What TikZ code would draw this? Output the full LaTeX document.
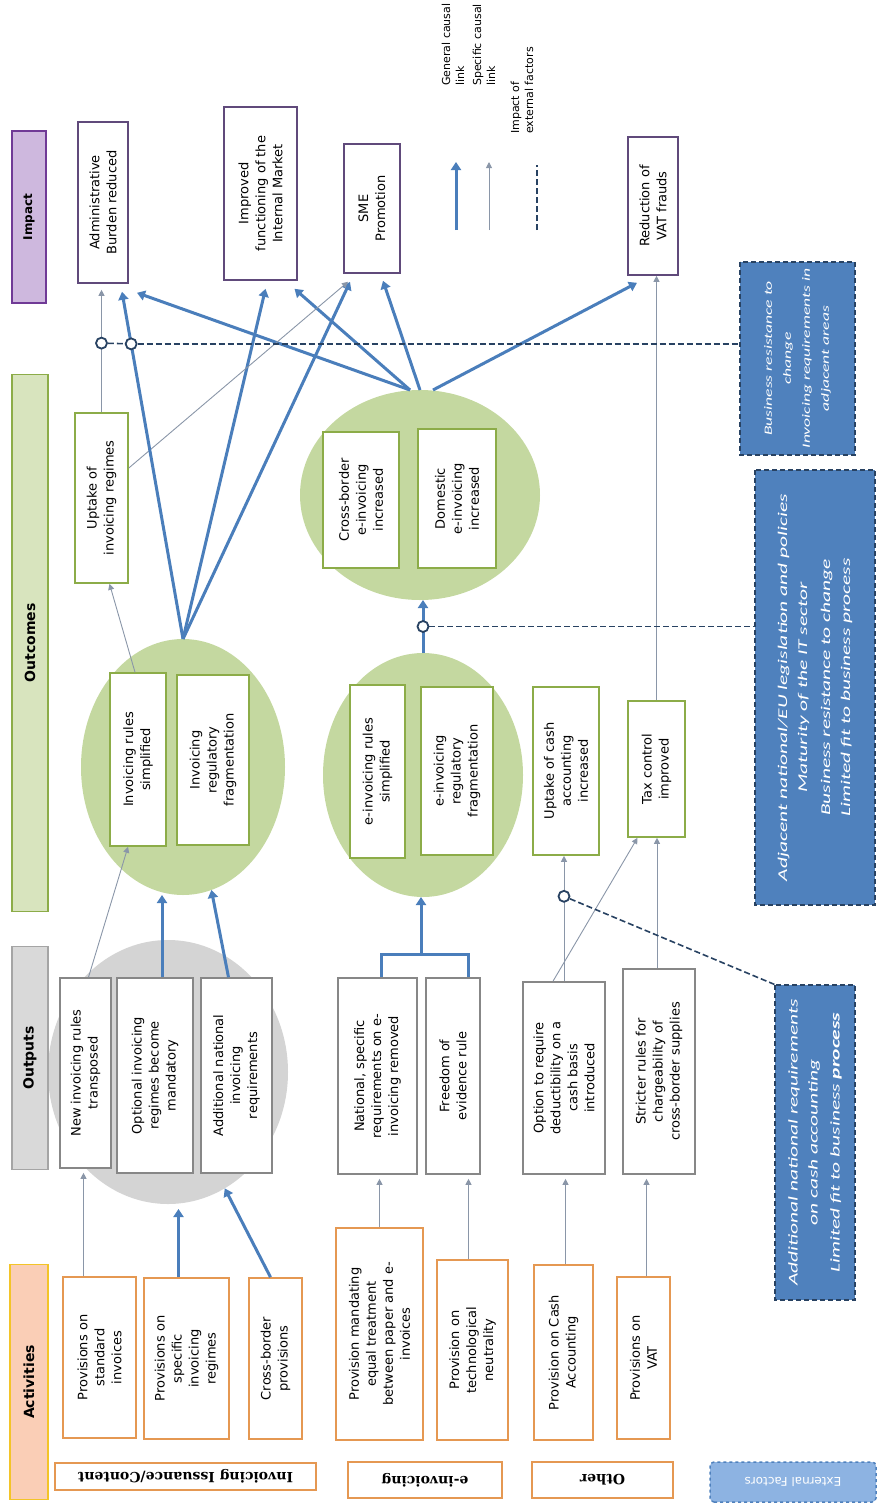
\documentclass[tikz,border=0pt]{standalone}
\usepackage{fontspec}
\setmainfont{DejaVu Sans}
\newfontfamily\extfont[FakeStretch=1.6]{Carlito}
\newfontfamily\rowfont{DejaVu Serif}
\usetikzlibrary{arrows.meta,shapes.geometric}

\definecolor{actline}{RGB}{229,152,82}
\definecolor{acthead}{RGB}{250,206,182}
\definecolor{actheadline}{RGB}{243,196,40}
\definecolor{outline}{RGB}{135,135,135}
\definecolor{outhead}{RGB}{217,217,217}
\definecolor{outheadline}{RGB}{165,165,165}
\definecolor{ocline}{RGB}{140,172,72}
\definecolor{ochead}{RGB}{216,228,190}
\definecolor{imline}{RGB}{96,74,123}
\definecolor{imhead}{RGB}{206,184,222}
\definecolor{imheadline}{RGB}{112,58,150}
\definecolor{greyblob}{RGB}{212,212,212}
\definecolor{greenblob}{RGB}{196,216,160}
\definecolor{heavyblue}{RGB}{74,126,187}
\definecolor{thingray}{RGB}{138,150,168}
\definecolor{extdark}{RGB}{40,66,98}
\definecolor{extblue}{RGB}{79,129,189}
\definecolor{extlight}{RGB}{141,179,226}

\newcommand{\boxsize}{\fontsize{13}{17}\selectfont}

\begin{document}
\begin{tikzpicture}[x=1pt,y=-1pt,
    box/.style={draw, fill=white, rotate=90, align=center, inner sep=1pt,
      line width=1.6pt, font=\boxsize},
    actbox/.style={box, draw=actline},
    outbox/.style={box, draw=outline},
    ocbox/.style={box, draw=ocline},
    imbox/.style={box, draw=imline},
    header/.style={rotate=90, inner sep=0pt, line width=1.5pt,
      font=\fontsize{14}{16}\selectfont\bfseries},
    rowlabel/.style={rotate=180, inner sep=0pt, line width=1.5pt,
      font=\rowfont\fontsize{14}{16}\selectfont\bfseries},
    extbox/.style={rotate=90, fill=extblue, draw=extdark, dashed, line width=1.2pt,
      dash pattern=on 5pt off 3pt, text=white, align=center, inner sep=2pt,
      font=\extfont\itshape\fontsize{13.4}{20}\selectfont},
    blob/.style={ellipse, inner sep=0pt, outer sep=0pt},
    heavyarr/.style={-{Triangle[width=10pt,length=8pt]}, line width=3pt, draw=heavyblue},
    heavyline/.style={line width=3pt, draw=heavyblue},
    thinarr/.style={-{Triangle[width=6pt,length=6pt]}, line width=0.9pt, draw=thingray},
    extline/.style={line width=1.6pt, draw=extdark, dash pattern=on 6pt off 3pt},
    knot/.style={circle, draw=extdark, fill=white, line width=1.8pt,
      minimum size=11pt, inner sep=0pt},
    legtext/.style={rotate=90, align=left, inner sep=0pt,
      font=\fontsize{11}{14}\selectfont}]
\useasboundingbox (0,0) rectangle (877,1504);

% Background blobs
\node[blob, fill=greyblob, minimum width=240pt, minimum height=264pt] (ellGrey) at (168,1072) {};
\node[blob, fill=greenblob, minimum width=204pt, minimum height=256pt] (ellInv) at (183,767) {};
\node[blob, fill=greenblob, minimum width=200pt, minimum height=244pt] (ellEinv) at (423,775) {};
\node[blob, fill=greenblob, minimum width=240pt, minimum height=210pt] (ellCross) at (420,495) {};

% Column headers
\node[header, fill=acthead, draw=actheadline, minimum width=235pt, minimum height=38pt] (hAct) at (29,1382) {Activities};
\node[header, fill=outhead, draw=outheadline, minimum width=223pt, minimum height=36pt] (hOut) at (30,1058) {Outputs};
\node[header, fill=ochead, draw=ocline, minimum width=537pt, minimum height=36pt] (hOc) at (30,643) {Outcomes};
\node[header, fill=imhead, draw=imheadline, minimum width=172pt, minimum height=34pt, font=\fontsize{12}{14}\selectfont\bfseries] (hIm) at (29,217) {Impact};

% Row labels
\node[rowlabel, draw=actline, fill=white, minimum width=261pt, minimum height=27pt] (rowInv) at (185.5,1476.5) {Invoicing Issuance/Content};
\node[rowlabel, draw=actline, fill=white, minimum width=154pt, minimum height=36pt] (rowEinv) at (425,1480) {e-invoicing};
\node[rowlabel, draw=actline, fill=white, minimum width=141pt, minimum height=36pt] (rowOther) at (602.5,1480) {Other};
\node[rowlabel, draw=extblue, dashed, fill=extlight, text=white, rounded corners=4pt, minimum width=166pt, minimum height=40pt,
  font=\fontsize{12}{14}\selectfont] (rowExt) at (793,1482) {External Factors};

% Activities
\node[actbox, minimum width=161pt, minimum height=73pt] (act1) at (99.5,1357.5) {Provisions on\\standard\\invoices};
\node[actbox, minimum width=161pt, minimum height=85pt] (act2) at (186.5,1358.5) {Provisions on\\specific\\invoicing\\regimes};
\node[actbox, minimum width=161pt, minimum height=53pt] (act3) at (275.5,1358.5) {Cross-border\\provisions};
\node[actbox, minimum width=212pt, minimum height=87pt] (act4) at (379.5,1334) {Provision mandating\\equal treatment\\between paper and e-\\invoices};
\node[actbox, minimum width=180pt, minimum height=71pt] (act5) at (472.5,1350) {Provision on\\technological\\neutrality};
\node[actbox, minimum width=175pt, minimum height=59pt] (act6) at (563.5,1352.5) {Provision on Cash\\Accounting};
\node[actbox, minimum width=162pt, minimum height=53pt] (act7) at (643.5,1358) {Provisions on\\VAT};

% Outputs
\node[outbox, minimum width=190pt, minimum height=51pt] (out1) at (85.5,1073) {New invoicing rules\\transposed};
\node[outbox, minimum width=195pt, minimum height=76pt] (out2) at (155,1075.5) {Optional invoicing\\regimes become\\mandatory};
\node[outbox, minimum width=195pt, minimum height=71pt] (out3) at (236.5,1075.5) {Additional national\\invoicing\\requirements};
\node[outbox, minimum width=196pt, minimum height=79pt] (out4) at (377.5,1076) {National, specific\\requirements on e-\\invoicing removed};
\node[outbox, minimum width=196pt, minimum height=54pt] (out5) at (453,1076) {Freedom of\\evidence rule};
\node[outbox, minimum width=192pt, minimum height=82pt] (out6) at (564,1078) {Option to require\\deductibility on a\\cash basis\\introduced};
\node[outbox, minimum width=205pt, minimum height=72pt] (out7) at (659,1071.5) {Stricter rules for\\chargeability of\\cross-border supplies};

% Outcomes
\node[ocbox, minimum width=173pt, minimum height=56pt] (oc1) at (138,759.5) {Invoicing rules\\simplified};
\node[ocbox, minimum width=170pt, minimum height=72pt] (oc2) at (213,760) {Invoicing\\regulatory\\fragmentation};
\node[ocbox, minimum width=173pt, minimum height=55pt] (oc3) at (377.5,771.5) {e-invoicing rules\\simplified};
\node[ocbox, minimum width=168pt, minimum height=72pt] (oc4) at (457,771) {e-invoicing\\regulatory\\fragmentation};
\node[ocbox, minimum width=168pt, minimum height=66pt] (oc5) at (566,771) {Uptake of cash\\accounting\\increased};
\node[ocbox, minimum width=136pt, minimum height=57pt] (oc6) at (656.5,769) {Tax control\\improved};
\node[ocbox, minimum width=170pt, minimum height=53pt] (oc7) at (101.5,498) {Uptake of\\invoicing regimes};
\node[ocbox, minimum width=136pt, minimum height=76pt] (oc8) at (361,500) {Cross-border\\e-invoicing\\increased};
\node[ocbox, minimum width=139pt, minimum height=78pt] (oc9) at (457,498.5) {Domestic\\e-invoicing\\increased};

% Impact
\node[imbox, minimum width=161pt, minimum height=50pt] (im1) at (103,202.5) {Administrative\\Burden reduced};
\node[imbox, minimum width=173pt, minimum height=73pt] (im2) at (260.5,193.5) {Improved\\functioning of the\\Internal Market};
\node[imbox, minimum width=129pt, minimum height=56pt] (im3) at (372,208.5) {SME\\Promotion};
\node[imbox, minimum width=138pt, minimum height=50pt] (im4) at (653,206) {Reduction of\\VAT frauds};

% External factors
\node[extbox, minimum width=193pt, minimum height=115pt, font=\extfont\itshape\fontsize{11}{19}\selectfont] (ext1) at (797.5,358.5) {Business resistance to\\change\\Invoicing requirements in\\adjacent areas};
\node[extbox, minimum width=435pt, minimum height=120pt] (ext2) at (815,687.5) {Adjacent national/EU legislation and policies\\Maturity of the IT sector\\[3pt]Business resistance to change\\Limited fit to business process};
\node[extbox, minimum width=315pt, minimum height=80pt] (ext3) at (815,1142.5) {Additional national requirements\\on cash accounting\\[2pt]Limited fit to business \textbf{process}};

% Activities -> outputs
\draw[thinarr, shorten >=4pt] ([xshift=-16pt]act1.east) -- ([xshift=-16pt]act1.east |- out1.west);
\draw[heavyarr, shorten >=5pt] ([xshift=-8pt]act2.east) -- ([xshift=-8pt]act2.east |- ellGrey.south);
\draw[heavyarr] ([xshift=-5pt]act3.east) -- (ellGrey.-64);
\draw[thinarr, shorten >=4pt] (act4.east) -- (act4.east |- out4.west);
\draw[thinarr, shorten >=4pt] ([xshift=-4pt]act5.east) -- ([xshift=-4pt]act5.east |- out5.west);
\draw[thinarr, shorten >=4pt] ([xshift=2pt]act6.east) -- ([xshift=2pt]act6.east |- out6.west);
\draw[thinarr, shorten >=4pt] ([xshift=3pt]act7.east) -- ([xshift=3pt]act7.east |- out7.west);

% Outputs -> outcomes
\draw[thinarr] ([xshift=3pt]out1.east) -- ([xshift=-10pt]oc1.west);
\draw[heavyarr] ([xshift=7pt]out2.east) -- ([xshift=7pt]out2.east |- ellInv.south);
\draw[heavyarr] ([xshift=-8pt]out3.east) -- (ellInv.-77);
\draw[heavyline] ([xshift=4pt]out4.east) -- ++(0,-23) -| ([xshift=15pt]out5.east);
\coordinate (einvJoin) at (421,955);
\draw[heavyarr] (einvJoin) -- (einvJoin |- ellEinv.south);
\draw[thinarr] (out6.east) -- node[knot, pos=0.677] (knotD) {} (out6.east |- oc5.west);
\draw[thinarr] ([xshift=-11pt]out6.east) -- ([xshift=-19pt]oc6.west);
\draw[thinarr] ([xshift=-2pt]out7.east) -- ([xshift=-2pt]out7.east |- oc6.west);

% Outcomes -> outcomes
\draw[thinarr] ([xshift=-3pt]oc1.east) -- ([xshift=8pt]oc7.west);
\draw[heavyarr] (ellEinv.north) -- node[knot, pos=0.5] (knotC) {} (ellEinv.north |- ellCross.south);

% Outcomes -> impact
\draw[heavyarr] ([xshift=13pt]ellCross.north) -- ([xshift=-16pt,yshift=-7pt]im4.west);
\draw[heavyarr] (ellCross.north) -- ([xshift=11pt,yshift=-7pt]im3.west);
\draw[heavyarr] ([xshift=-10pt]ellCross.north) -- ([xshift=34pt,yshift=-8pt]im2.west);
\draw[heavyarr] ([xshift=-10pt]ellCross.north) -- ([xshift=34pt,yshift=-9pt]im1.west);
\draw[heavyarr] (ellInv.north) -- ([xshift=5pt,yshift=-8pt]im2.west);
\draw[heavyarr] (ellInv.north) -- ([xshift=-22pt,yshift=-8pt]im3.west);
\draw[thinarr] ([yshift=30pt]oc7.south) -- ([xshift=-24pt,yshift=-8pt]im3.west);
\draw[thinarr] (oc6.east) -- (oc6.east |- im4.west);
\draw[heavyarr] (ellInv.north) -- node[knot, pos=0.85] (knotB) {} ([xshift=19pt,yshift=-8pt]im1.west);
\draw[thinarr, shorten >=6pt] (oc7.east) -- node[knot, pos=0.538] (knotA) {} (oc7.east |- im1.west);

% Impact of external factors
\draw[extline] (knotA) -- (knotB);
\draw[extline] (knotB) -- (knotB -| ext1.north);
\draw[extline] (knotC) -- (knotC -| ext2.north);
\draw[extline] (knotD) -- (ext3.north east);

% Manual legend
\coordinate (legGenFrom) at (456,230);
\coordinate (legGenTo) at (456,162);
\coordinate (legSpecFrom) at (489,230);
\coordinate (legSpecTo) at (489,162);
\coordinate (legExtFrom) at (537,230);
\coordinate (legExtTo) at (537,165);
\draw[heavyarr] (legGenFrom) -- (legGenTo);
\draw[thinarr] (legSpecFrom) -- (legSpecTo);
\draw[extline, line width=1.2pt] (legExtFrom) -- (legExtTo);
\node[legtext, anchor=west] (legGen) at (453,86) {General causal\\link};
\node[legtext, anchor=west] (legSpec) at (484,86) {Specific causal\\link};
\node[legtext, anchor=west] (legExt) at (522,134) {Impact of\\external factors};
\end{tikzpicture}
\end{document}
